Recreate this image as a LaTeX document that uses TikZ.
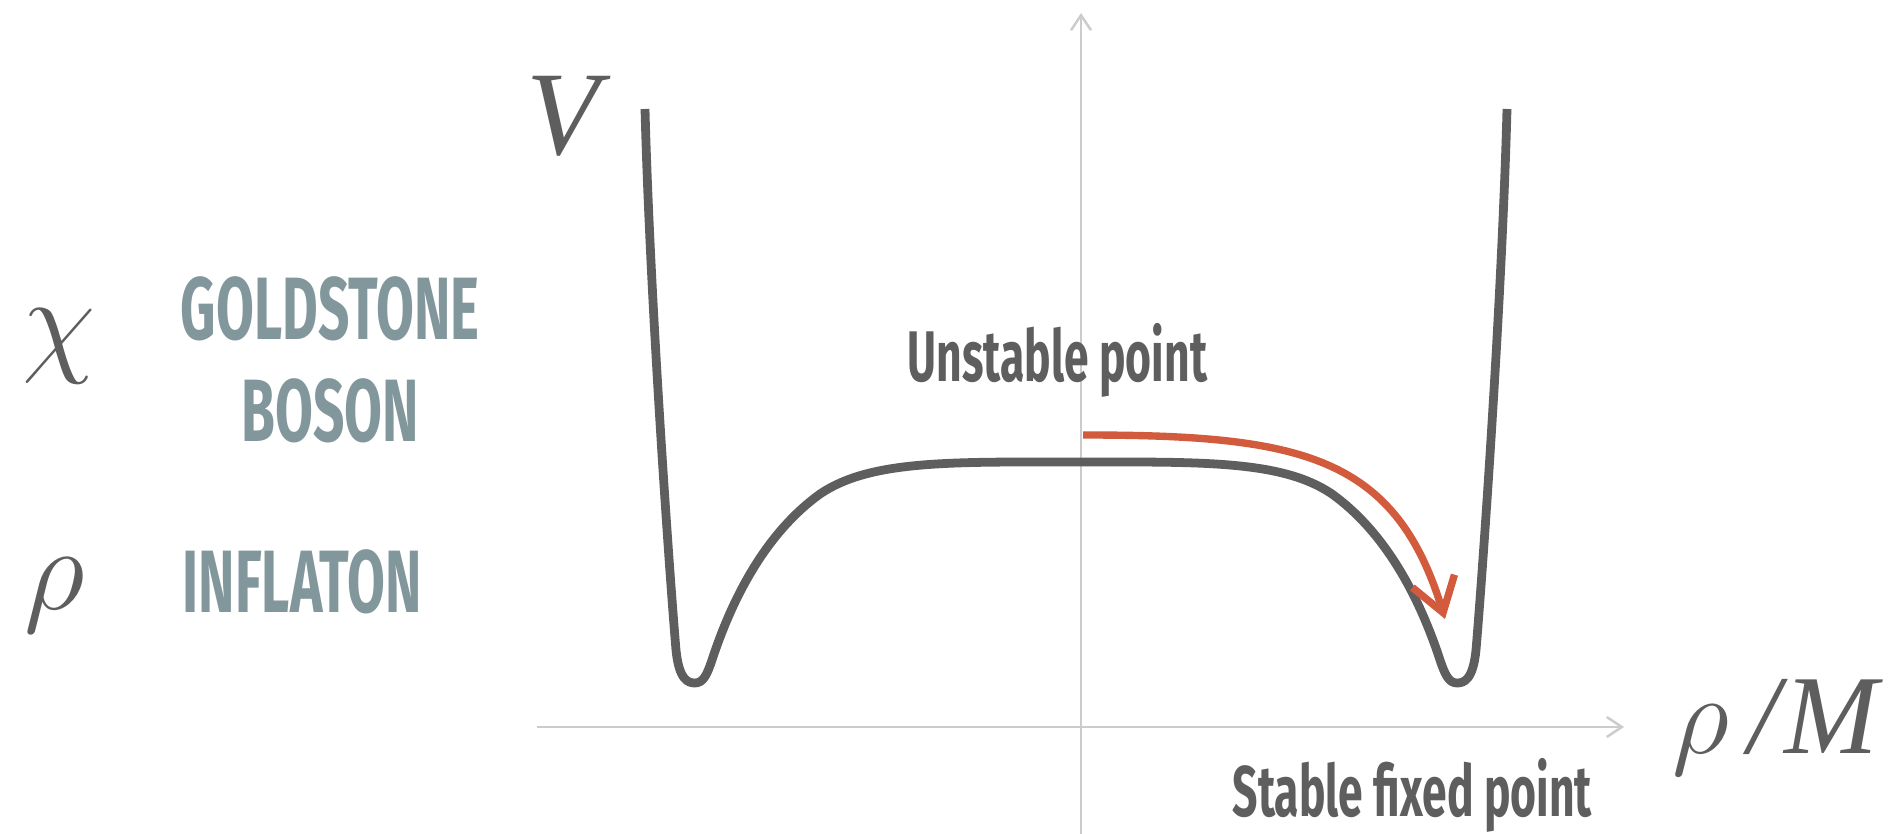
\RequirePackage{fix-cm}
\documentclass[tikz,border=0pt]{standalone}
\usepackage{fontspec}
\usepackage{tikz}
\usetikzlibrary{arrows.meta}
\newfontfamily\dinfont[FakeStretch=0.62]{Fira Sans}
\newfontfamily\symfont{Liberation Serif}
\definecolor{curvegray}{HTML}{5E5E5E}
\definecolor{axisgray}{HTML}{CCCCCC}
\definecolor{slate}{HTML}{82979C}
\definecolor{rollred}{HTML}{D35B3D}
\tikzset{
    axis line/.style={
        draw=axisgray,line width=0.7pt,
        -{Straight Barb[length=1.5mm,width=2mm]}
    },
    potential/.style={draw=curvegray,line width=2.5pt,line join=round},
    roll arrow/.style={
        draw=rollred,line width=2.1pt,
        -{Straight Barb[length=3.3mm,width=4.4mm]}
    },
    field symbol/.style={
        inner sep=0,text=curvegray,
        font=\symfont\itshape\fontsize{34}{40}\selectfont
    },
    particle name/.style={
        inner sep=0,text=slate,
        font=\dinfont\bfseries\fontsize{25.2}{30}\selectfont
    },
    point label/.style={
        inner sep=0,text=curvegray,
        font=\dinfont\bfseries\fontsize{20.4}{24}\selectfont
    }
}
\begin{document}
\begin{tikzpicture}[x=0.1mm,y=-0.1mm]
\useasboundingbox (0,0) rectangle (1900,834);
% axes
\coordinate (xstart) at (537,727);
\coordinate (xend) at (1624,727);
\coordinate (ystart) at (1081,834);
\coordinate (yend) at (1081,13);
\draw[axis line] (xstart) -- (xend);
\draw[axis line] (ystart) -- (yend);

% the potential
\draw[potential] (645,109) .. controls (650,300) and (670,580) .. (676,650)
    .. controls (679,680) and (688,683) .. (695,683)
    .. controls (703,683) and (707,675) .. (712,660)
    .. controls (735,590) and (770,530) .. (820,494)
    .. controls (870,460) and (950,462) .. (1076,462)
    .. controls (1202,462) and (1282,460) .. (1332,494)
    .. controls (1382,530) and (1417,590) .. (1440,660)
    .. controls (1445,675) and (1449,683) .. (1457,683)
    .. controls (1464,683) and (1473,680) .. (1476,650)
    .. controls (1482,580) and (1502,300) .. (1507,109);

% rolling down
\coordinate (top) at (1083,435);
\coordinate (bottom) at (1445,619);
\draw[roll arrow] (top) .. controls (1300,435) and (1395,455) .. (bottom);

\node[field symbol,anchor=base] (vlabel) at (563,155) {V};
\node[field symbol,anchor=base west,font=\symfont\itshape\fontsize{32}{38}\selectfont] (xlabel) at (1672,753) {$\rho$\,/\kern1.5pt M};
\node[field symbol,anchor=base] (chi) at (59,361) {$\chi$};
\node[field symbol,anchor=base] (rho) at (55,610) {$\rho$};

\node[particle name,anchor=base] (goldstone) at (330,340) {GOLDSTONE};
\node[particle name,anchor=base] (boson) at (330,442) {BOSON};
\node[particle name,anchor=base west] (inflaton) at (182,613) {INFLATON};

\node[point label,anchor=base west] (unstable) at (907,382) {Unstable point};
\node[point label,anchor=base west] (stable) at (1232,816) {Stable fixed point};
\end{tikzpicture}
\end{document}
